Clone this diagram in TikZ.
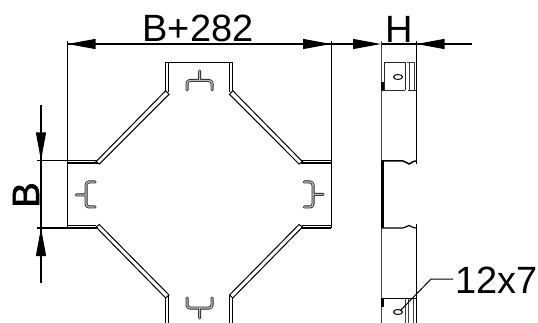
\documentclass[tikz,border=0pt]{standalone}
\usepackage{fontspec}
\setmainfont{Liberation Sans}
\newfontfamily\fatfont[FakeBold=1.6]{Liberation Sans}
\usetikzlibrary{arrows.meta}
\tikzset{
  x=1pt,y=-1pt,
  thin line/.style={line width=1pt,black},
  thick line/.style={line width=1.3pt,black},
  dim/.style={line width=1.1pt,black},
  dimtip/.style={-{Triangle[length=28pt,width=10pt,fill=black]}},
  label/.style={font=\fontsize{38}{38}\selectfont,inner sep=0pt},
  hook/.style={line width=3pt,black!85,line cap=round,line join=round,rounded corners=3pt},
  hookin/.style={line width=1.3pt,black!25,line cap=round,line join=round,rounded corners=3pt}
}
\newcommand{\hookshape}[1]{%
  \draw[hook] #1;
  \draw[hookin] #1;
}
\begin{document}
\begin{tikzpicture}
\useasboundingbox (0,0) rectangle (538,323);
\fill[white] (0,0) rectangle (538,323);
% named dimension points
\coordinate (L) at (67.5,44);
\coordinate (R) at (331,44);
\coordinate (SL) at (381,44);
\coordinate (SR) at (416.5,44);
\coordinate (BT) at (41,160.5);
\coordinate (BB) at (41,228);
% plan outline: tabs
\draw[thin line] (67.5,41) -- (67.5,228);
\draw[thin line] (331,41) -- (331,228);
\draw[thick line] (67.5,160.5) -- (97,160.5) (67.5,163) -- (98,163);
\draw[thick line] (301,160.5) -- (331,160.5) (301,163) -- (331,163);
\draw[thick line] (67.5,228) -- (98,228) (67.5,225.5) -- (96,225.5);
\draw[thick line] (301,228) -- (331,228) (302,225.5) -- (331,225.5);
% diagonals
\draw[thin line] (96,161.7) -- (99.3,164) -- (169,94.3) -- (165.7,90.7) -- cycle;
\draw[thin line] (302.5,161.7) -- (299,164) -- (229.5,94.3) -- (232.8,90.7) -- cycle;
\draw[thin line] (96,227) -- (99.3,224.5) -- (169,295) -- (165.7,298) -- cycle;
\draw[thin line] (302.5,227) -- (299,224.5) -- (229.5,295) -- (232.8,298) -- cycle;
% top and bottom arms
\draw[thin line] (165.5,91) -- (165.5,62.5) -- (232.5,62.5) -- (232.5,91);
\draw[thick line] (168.5,92) -- (168.5,62.5) (229.5,62.5) -- (229.5,92);
\draw[thick line] (165.5,298) -- (165.5,323) (168.5,295) -- (168.5,323);
\draw[thick line] (229.5,295) -- (229.5,323) (232.5,298) -- (232.5,323);
% hooks
\hookshape{(187,90) -- (187,80.5) -- (212,80.5) -- (212,90) (199.5,71) -- (199.5,80.5)}
\hookshape{(187,298) -- (187,308) -- (212,308) -- (212,298) (199.5,308) -- (199.5,318)}
\hookshape{(95,182) -- (86,182) -- (86,207) -- (95,207) (76,195) -- (86,195)}
\hookshape{(304,182) -- (313,182) -- (313,207) -- (304,207) (313,194.5) -- (323,194.5)}
% dimensions
\draw[dim] (L) -- (R);
\draw[dim,dimtip] (95,44) -- (L);
\draw[dim,dimtip] (303,44) -- (R);
\draw[dim] (R) -- (353,44);
\draw[dim,dimtip] (353,44) -- (SL);
\draw[dim] (SL) -- (SR);
\draw[dim] (SR) -- (472,44);
\draw[dim,dimtip] (444,44) -- (SR);
\draw[dim] (BT) -- (BB);
\draw[dim] (41,105) -- (BT);
\draw[dim,dimtip] (41,133) -- (BT);
\draw[dim] (41,283) -- (BB);
\draw[dim,dimtip] (41,256) -- (BB);
\draw[dim] (37,160.5) -- (67.5,160.5) (37,228) -- (67.5,228);
% labels
\node[label,anchor=base] (t1) at (198,42) {B+282};
\node[label,anchor=base] (t2) at (399,43) {H};
\node[label,anchor=base,rotate=90] (t3) at (39,195) {\fatfont B};
\node[label,anchor=base west] (t4) at (455,293) {12x7};
% side view
\draw[thin line,black!75] (381,41) -- (381,323);
\draw[thin line] (416.5,41) -- (416.5,164) (416.5,224) -- (416.5,323);
\draw[thin line,black!85] (384,62.5) -- (405,62.5) (384,62.5) -- (384,90.5) (405,62.5) -- (405,90.5);
\draw[thin line,black!85] (381,90.5) -- (405,90.5) (408,90.5) -- (416.5,90.5);
\draw[thin line,black!75] (407,62.5) -- (414,62.5) (409,62.5) -- (409,90.5) (414,62.5) -- (414,90.5);
\draw[line width=3pt] (382.5,82) -- (382.5,90.5);
\draw[thin line] (398,77) ellipse (4.5 and 2.5);
\draw[line width=3pt] (382.5,161) -- (382.5,228);
\draw[line width=1.5pt] (382,161) -- (403,161) .. controls (406,161) and (407,164) .. (409,164) .. controls (411,164) and (412,161) .. (416,161);
\draw[line width=1.2pt] (382,228) -- (403,228) .. controls (406,228) and (407,225.5) .. (409,225.5) .. controls (411,225.5) and (412,228) .. (416,228);
\draw[thin line] (381,298.5) -- (416.5,298.5);
\draw[thin line,black!75] (405,298.5) -- (405,323) (408,298.5) -- (408,323) (413,298.5) -- (413,323);
\draw[line width=3pt] (382.5,298.5) -- (382.5,307);
\draw[thin line] (398,312) ellipse (4.5 and 2.5);
% leader
\coordinate (lk) at (431,279);
\draw[thin line] (400,311) -- (lk) -- (453,279);
\end{tikzpicture}
\end{document}
